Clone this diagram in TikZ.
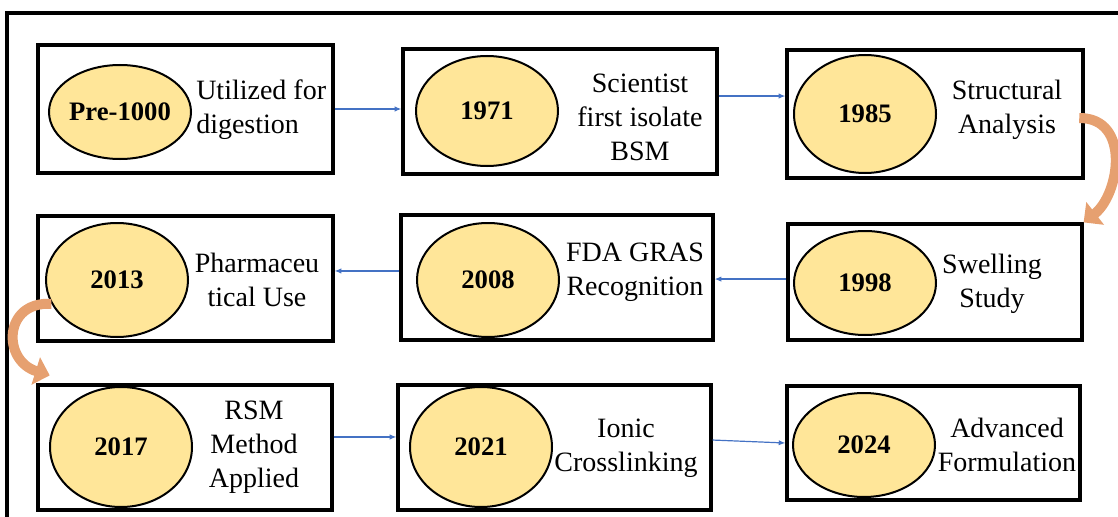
\documentclass[tikz,border=0pt]{standalone}
\usepackage{fontspec}
\setmainfont{LiberationSerif}[Extension=.ttf, UprightFont=*-Regular, BoldFont=*-Bold, ItalicFont=*-Italic, BoldItalicFont=*-BoldItalic]
\usetikzlibrary{positioning}
\usetikzlibrary{arrows.meta}
\usetikzlibrary{shapes.geometric}

\definecolor{yearfill}{HTML}{FFE699}
\definecolor{linkblue}{HTML}{4472C4}
\definecolor{bendorange}{HTML}{E6A070}

\begin{document}
\begin{tikzpicture}[x=0.75pt,y=-0.75pt,
  stagebox/.style={draw, line width=2.4pt, inner sep=0pt},
  yearoval/.style={ellipse, draw, line width=1.5pt, fill=yearfill, inner sep=0pt, minimum width=106.5pt},
  yeartext/.style={font=\fontsize{20}{24}\selectfont\bfseries, inner sep=0pt},
  desc/.style={font=\fontsize{21}{25.5}\selectfont, align=center, inner sep=0pt},
  link/.style={linkblue, line width=0.9pt, -{Latex[length=5pt,width=4pt]}},
  turnarrow/.style={bendorange, line width=7.5pt, -{Triangle[length=11pt,width=21pt]}}]
  % fix the size of the picture
  \useasboundingbox (0,0) rectangle (1118,517);
  \clip (0,0) rectangle (1118,517);
  \draw[line width=3.2pt] (7,13) rectangle (1140,540);

  % boxes: name/x/y/width/height
  \foreach \n/\x/\y/\w/\h in {1/185.5/109/221.25pt/96pt, 2/560/111.5/235.5pt/93.75pt, 3/935/114/222pt/96pt,
      4/185.5/278.5/221.25pt/93.75pt, 5/557/277.5/234pt/93.75pt, 6/935/282/220.5pt/87pt,
      7/185/447.5/220.5pt/93.75pt, 8/554.5/447.5/234.75pt/93.75pt, 9/933.5/443/219.75pt/85.5pt}
    {\node[stagebox, minimum width=\w, minimum height=\h] (b\n) at (\x,\y) {};}

  % year ovals
  \foreach \n/\x/\y/\h/\yr in {1/120/112/70.5pt/Pre-1000, 2/487/111/82.5pt/1971, 3/865/114/88.5pt/1985,
      4/117/280/85.5pt/2013, 5/488/280/85.5pt/2008, 6/865/283/78pt/1998,
      7/121/447/90pt/2017, 8/481/447/90pt/2021, 9/864/445/78pt/2024}
    {\node[yearoval, minimum height=\h] (y\n) at (\x,\y) {};
     \node[yeartext] (t\n) at (y\n) {\yr};}

  % descriptions
  \node[desc, anchor=west, align=left] (d1) at (196,110) {Utilized for\\digestion};
  \node[desc] (d2) at (640,117) {Scientist\\first isolate\\BSM};
  \node[desc] (d3) at (1007,110) {Structural\\Analysis};
  \node[desc] (d4) at (257,280) {Pharmaceu\\tical Use};
  \node[desc] (d5) at (635,272) {FDA GRAS\\Recognition};
  \node[desc] (d6) at (992,284) {Swelling\\Study};
  \node[desc] (d7) at (254,447) {RSM\\Method\\Applied};
  \node[desc] (d8) at (626,448) {Ionic\\Crosslinking};
  \node[desc] (d9) at (1007,445) {Advanced\\Formulation};

  % straight links
  \draw[link] (b1.east) -- (b1.east -| b2.west);
  \draw[link] ([yshift=11.6pt]b2.east) -- ([yshift=11.6pt]b2.east -| b3.west);
  \draw[link] ([yshift=2.2pt]b6.west) -- ([yshift=2.2pt]b6.west -| b5.east);
  \draw[link] ([yshift=4.9pt]b5.west) -- ([yshift=4.9pt]b5.west -| b4.east);
  \draw[link] ([yshift=7.9pt]b7.east) -- ([yshift=7.9pt]b7.east -| b8.west);
  \draw[link] ([yshift=5.6pt]b8.east) -- (b9.west);

  % curved arrows between rows
  \draw[turnarrow] ([xshift=-4pt,yshift=-3pt]b3.east) .. controls +(52,0) and +(36,-28) .. (b6.north east);
  \draw[turnarrow] (y4.200) .. controls +(-48,-3) and +(-48,-15) .. ([xshift=10pt,yshift=6pt]b7.north west);
\end{tikzpicture}
\end{document}
